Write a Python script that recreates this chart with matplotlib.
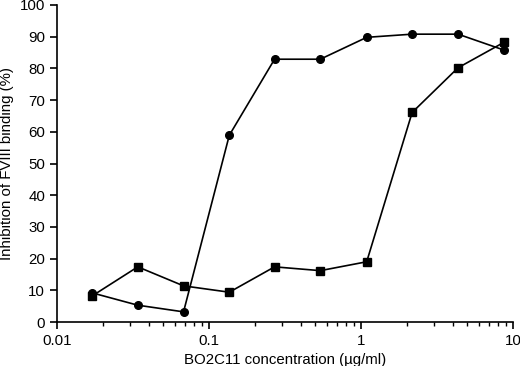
import numpy as np
import matplotlib.pyplot as plt

plt.rcParams['font.family'] = ['Liberation Sans', 'DejaVu Sans']

# two-fold dilution series of BO2C11 (ug/ml)
conc = [0.017, 0.034, 0.068, 0.136, 0.27, 0.54, 1.09, 2.17, 4.35, 8.7]
circles = [9.2, 5.3, 3.2, 58.9, 82.9, 82.9, 89.8, 90.8, 90.8, 85.8]
squares = [8.2, 17.4, 11.4, 9.4, 17.4, 16.2, 19.0, 66.1, 80.2, 88.2]

fig = plt.figure(figsize=(5.2, 3.66), dpi=100)
ax = fig.add_axes([57/520, 1 - 322/366, (513 - 57)/520, (322 - 5)/366])

ax.plot(conc, circles, color='black', lw=1.2, marker='o', ms=5.5)
ax.plot(conc, squares, color='black', lw=1.2, marker='s', ms=5.5)

ax.set_xscale('log')
ax.set_xlim(0.01, 10)
ax.set_ylim(0, 100)
ax.set_yticks(np.arange(0, 101, 10))
ax.set_xticks([0.01, 0.1, 1, 10])
ax.set_xticklabels(['0.01', '0.1', '1', '10'])

for s in ['top', 'right']:
    ax.spines[s].set_visible(False)
for s in ['left', 'bottom']:
    ax.spines[s].set_linewidth(1.2)

ax.tick_params(which='major', length=5, width=1.2, labelsize=10.8, direction='out')
ax.tick_params(which='minor', length=3, width=1.0, direction='out')

ax.set_xlabel('BO2C11 concentration (µg/ml)', fontsize=10.8)
ax.set_ylabel('Inhibition of FVIII binding (%)', fontsize=10.8)

fig.savefig('out.png', dpi=100)
